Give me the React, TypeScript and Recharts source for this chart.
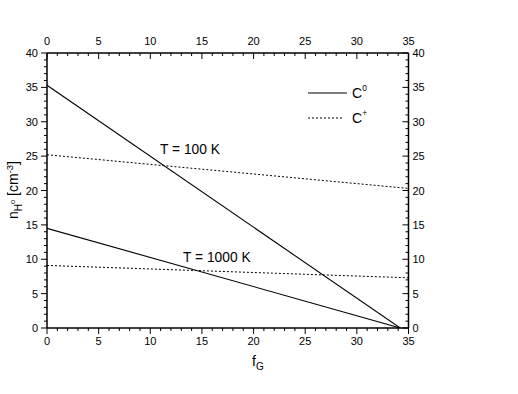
import React from 'react';
import { LineChart, Line, XAxis, YAxis } from 'recharts';

// f_G end points for each line family
const xC0 = [0, 34.2];
const xCplus = [0, 35];

// n_H0 values [cm^-3]
const c0T100 = [35.3, 0];
const c0T1000 = [14.5, 0];
const cPlusT100 = [25.2, 20.3];
const cPlusT1000 = [9.1, 7.3];

const xTicks = Array.from({ length: 36 }, (_, i) => i);
const yTicks = Array.from({ length: 41 }, (_, i) => i);

const FONT = '"Liberation Sans", Arial, sans-serif';

const toSeries = (xs: number[], ys: number[]) => xs.map((x, i) => ({ x, y: ys[i] }));

type Side = 'left' | 'right' | 'top' | 'bottom';

const makeTick = (side: Side) => (props: any) => {
  const { x, y, payload } = props;
  const v = payload.value;
  const major = v % 5 === 0;
  const len = major ? 6 : 3;
  let line;
  let label = null;
  if (side === 'left') {
    line = <line x1={x} y1={y} x2={x - len} y2={y} stroke="#000" />;
    if (major) label = <text x={x - 9} y={y} textAnchor="end" dominantBaseline="central">{v}</text>;
  } else if (side === 'right') {
    line = <line x1={x} y1={y} x2={x - len} y2={y} stroke="#000" />;
    if (major) label = <text x={x + 4} y={y} textAnchor="start" dominantBaseline="central">{v}</text>;
  } else if (side === 'bottom') {
    line = <line x1={x} y1={y} x2={x} y2={y + len} stroke="#000" />;
    if (major) label = <text x={x} y={y + 13} textAnchor="middle" dominantBaseline="central">{v}</text>;
  } else {
    line = <line x1={x} y1={y} x2={x} y2={y + len} stroke="#000" />;
    if (major) label = <text x={x} y={y - 12} textAnchor="middle" dominantBaseline="central">{v}</text>;
  }
  return (
    <g fontFamily={FONT} fontSize={11} fill="#000">
      {line}
      {label}
    </g>
  );
};

export default function App() {
  return (
    <div style={{ position: 'absolute', left: 0, top: 0 }}>
      <LineChart
        width={518}
        height={394}
        margin={{ top: 23, right: 69.5, bottom: 36, left: 7 }}
      >
        <XAxis
          xAxisId="bottom"
          orientation="bottom"
          type="number"
          dataKey="x"
          domain={[0, 35]}
          ticks={xTicks}
          interval={0}
          height={30}
          tickSize={0}
          tickMargin={0}
          tickLine={false}
          tick={makeTick('bottom')}
          axisLine={{ stroke: '#000', strokeWidth: 1.5 }}
          allowDataOverflow
        />
        <XAxis
          xAxisId="top"
          orientation="top"
          type="number"
          dataKey="x"
          domain={[0, 35]}
          ticks={xTicks}
          interval={0}
          height={30}
          tickSize={0}
          tickMargin={0}
          tickLine={false}
          tick={makeTick('top')}
          axisLine={{ stroke: '#000', strokeWidth: 1.5 }}
          allowDataOverflow
        />
        <YAxis
          yAxisId="left"
          orientation="left"
          type="number"
          domain={[0, 40]}
          ticks={yTicks}
          interval={0}
          width={40}
          tickSize={0}
          tickMargin={0}
          tickLine={false}
          tick={makeTick('left')}
          axisLine={{ stroke: '#000', strokeWidth: 1.5 }}
          allowDataOverflow
        />
        <YAxis
          yAxisId="right"
          orientation="right"
          type="number"
          domain={[0, 40]}
          ticks={yTicks}
          interval={0}
          width={40}
          tickSize={0}
          tickMargin={0}
          tickLine={false}
          tick={makeTick('right')}
          axisLine={{ stroke: '#000', strokeWidth: 1.5 }}
          allowDataOverflow
        />
        <Line xAxisId="bottom" yAxisId="left" data={toSeries(xC0, c0T100)} dataKey="y" stroke="#000" strokeWidth={1.1} dot={false} isAnimationActive={false} />
        <Line xAxisId="bottom" yAxisId="left" data={toSeries(xC0, c0T1000)} dataKey="y" stroke="#000" strokeWidth={1.1} dot={false} isAnimationActive={false} />
        <Line xAxisId="bottom" yAxisId="left" data={toSeries(xCplus, cPlusT100)} dataKey="y" stroke="#000" strokeWidth={1} strokeDasharray="2 2" dot={false} isAnimationActive={false} />
        <Line xAxisId="bottom" yAxisId="left" data={toSeries(xCplus, cPlusT1000)} dataKey="y" stroke="#000" strokeWidth={1} strokeDasharray="2 2" dot={false} isAnimationActive={false} />
        <Line xAxisId="top" yAxisId="right" data={toSeries(xCplus, cPlusT1000)} dataKey="y" stroke="none" dot={false} isAnimationActive={false} />

        {/* annotations */}
        <g fontFamily={FONT} fill="#000">
          <text x={160} y={154} fontSize={13.8}>T = 100 K</text>
          <text x={183} y={262} fontSize={13.8}>T = 1000 K</text>

          {/* legend */}
          <line x1={308} y1={93} x2={347} y2={93} stroke="#000" />
          <text x={352} y={98} fontSize={14}>C<tspan fontSize={8.5} dy={-7}>0</tspan></text>
          <line x1={308} y1={118} x2={343} y2={118} stroke="#000" strokeDasharray="2 2" />
          <text x={352} y={123} fontSize={14}>C<tspan fontSize={8.5} dy={-7}>+</tspan></text>

          {/* axis titles */}
          <text x={252} y={366} fontSize={14}>f<tspan fontSize={10} dy={4}>G</tspan></text>
          <text transform="rotate(-90 18 190)" x={18} y={190} fontSize={14} textAnchor="middle">
            n<tspan fontSize={10} dy={4}>H</tspan><tspan fontSize={7.5} dy={-7}>o</tspan><tspan fontSize={14} dy={3}> [cm</tspan><tspan fontSize={9.5} dy={-5}>-3</tspan><tspan fontSize={14} dy={5}>]</tspan>
          </text>
        </g>
      </LineChart>
    </div>
  );
}
